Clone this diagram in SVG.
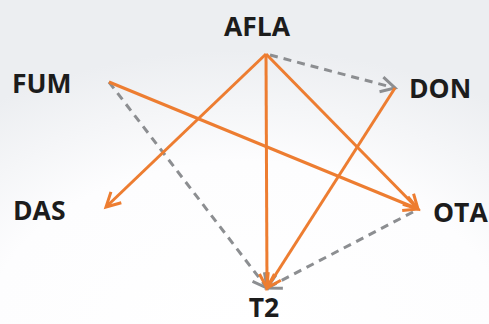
<svg xmlns="http://www.w3.org/2000/svg" width="489" height="324" viewBox="0 0 489 324">
<defs>
<radialGradient id="bg" cx="245" cy="330" r="330" gradientUnits="userSpaceOnUse" gradientTransform="translate(245 330) scale(1.3 0.85) translate(-245 -330)">
<stop offset="0" stop-color="#ffffff"/>
<stop offset="0.6" stop-color="#fdfdfe"/>
<stop offset="1" stop-color="#eceef1"/>
</radialGradient>
<marker id="ao" markerUnits="userSpaceOnUse" markerWidth="34" markerHeight="34" viewBox="-17 -17 34 34" refX="0" refY="0" orient="auto">
<path d="M-14,-7.5 L0,0 L-14,7.5" fill="none" stroke="#ED7D31" stroke-width="3" stroke-linecap="butt" stroke-linejoin="miter"/>
</marker>
<marker id="ag" markerUnits="userSpaceOnUse" markerWidth="34" markerHeight="34" viewBox="-17 -17 34 34" refX="0" refY="0" orient="auto">
<path d="M-14,-7.5 L0,0 L-14,7.5" fill="none" stroke="#8C8E91" stroke-width="3" stroke-linecap="butt" stroke-linejoin="miter"/>
</marker>
</defs>
<style>
.lbl{font-family:"Open Sans","Liberation Sans",sans-serif;font-weight:700;font-size:26.5px;fill:#1c1c1c}
.o{stroke:#ED7D31;stroke-width:3;fill:none;marker-end:url(#ao)}
.g{stroke:#8C8E91;stroke-width:3;fill:none;stroke-dasharray:8 6;marker-end:url(#ag)}
</style>
<rect width="489" height="324" fill="url(#bg)"/>
<g id="connectors">
<line class="g" x1="270" y1="55" x2="395" y2="88"/>
<line class="g" x1="109" y1="82" x2="267" y2="288"/>
<line class="g" x1="413" y1="212" x2="267" y2="288"/>
<line class="o" x1="266" y1="54" x2="106" y2="207"/>
<line class="o" x1="266" y1="54" x2="267" y2="288"/>
<line class="o" x1="266" y1="54" x2="418" y2="209"/>
<line class="o" x1="109" y1="82" x2="418" y2="209"/>
<line class="o" x1="395" y1="88" x2="267" y2="288"/>
</g>
<g id="AFLA"><text class="lbl" x="257" y="36" text-anchor="middle">AFLA</text></g>
<g id="FUM"><text class="lbl" x="12" y="93">FUM</text></g>
<g id="DON"><text class="lbl" x="409" y="98">DON</text></g>
<g id="DAS"><text class="lbl" x="13" y="220">DAS</text></g>
<g id="OTA"><text class="lbl" x="433" y="222">OTA</text></g>
<g id="T2"><text class="lbl" x="264" y="317" text-anchor="middle">T2</text></g>
</svg>
